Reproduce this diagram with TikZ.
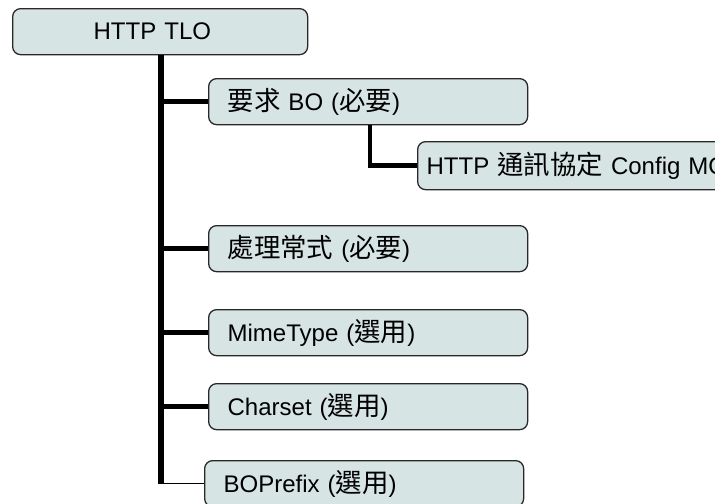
\documentclass[tikz,border=0pt]{standalone}
\usepackage{fontspec}
\setmainfont{Liberation Sans}
\newfontfamily\cjk[Scale=1.1]{Noto Sans CJK TC}
\usetikzlibrary{positioning}
\definecolor{boxFill}{RGB}{215,228,228}
\definecolor{boxLine}{RGB}{40,40,40}
\newcommand{\zh}[1]{{\cjk #1}}

\begin{document}
\begin{tikzpicture}[x=0.03cm,y=-0.03cm,
  box/.style={draw=boxLine,fill=boxFill,line width=1.1pt,rounded corners=0.24cm,
    anchor=north west,minimum height=1.38cm,inner xsep=0.57cm,text width=8.43cm,
    align=left,font=\fontsize{20.5}{23}\selectfont},
  trunk/.style={line width=4.3pt},
  branch/.style={line width=3.8pt}]
\useasboundingbox (0,0) rectangle (715,504);
\clip (0,0) rectangle (715,504);
% boxes
\node[box,inner xsep=2.43cm,text width=3.99cm] (tlo) at (12,8) {HTTP TLO};
\node[box] (req) at (208,78) {\zh{要求} BO (\zh{必要})};
\node[box,minimum height=1.44cm,inner xsep=0.27cm,text width=11cm] (cfg) at (417,141) {HTTP \zh{通訊協定} Config MO};
\node[box] (proc) at (208,225) {\zh{處理常式} (\zh{必要})};
\node[box] (mime) at (208,309) {MimeType (\zh{選用})};
\node[box] (cset) at (208,383) {Charset (\zh{選用})};
\node[box] (bopfx) at (204,460) {BOPrefix (\zh{選用})};
% connectors
\coordinate (spine) at ([xshift=4.47cm]tlo.south west);
\coordinate (sub) at ([xshift=4.86cm]req.south west);
\draw[trunk] (spine) -- (spine |- bopfx.west);
\foreach \n in {req,proc,mime,cset}
  \draw[branch] (spine |- \n.west) -- (\n.west);
\draw[line width=1.3pt] (spine |- bopfx.west) -- (bopfx.west);
\draw[branch] (sub) -- (sub |- cfg.west) -- (cfg.west);
\end{tikzpicture}
\end{document}
